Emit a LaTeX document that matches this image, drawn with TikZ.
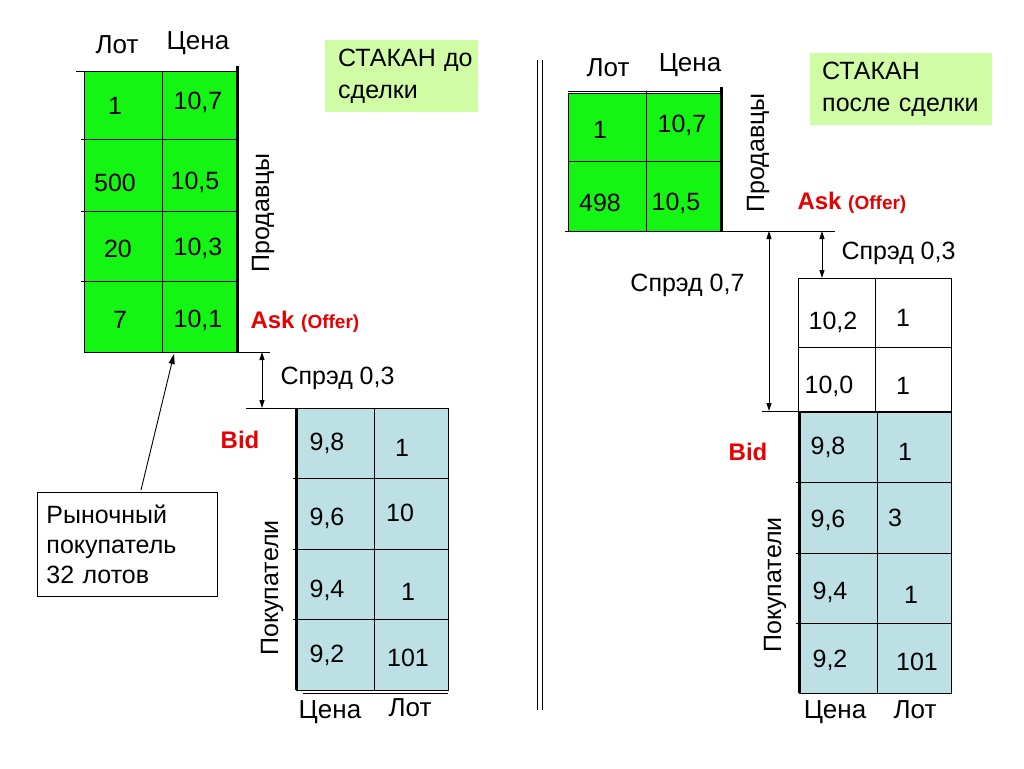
\documentclass[tikz,border=0pt]{standalone}
\usepackage{fontspec}
\setmainfont{Liberation Sans}
\usetikzlibrary{arrows.meta,positioning}
\definecolor{askgreen}{RGB}{20,245,20}
\definecolor{bidblue}{RGB}{188,224,228}
\definecolor{titlegreen}{RGB}{208,252,165}
\definecolor{hotred}{RGB}{232,0,0}

\begin{document}
\begin{tikzpicture}[x=1pt, y=-1pt, font=\fontsize{25}{30}\selectfont,
    grid/.style={line width=0.9pt},
    edge/.style={line width=3pt},
    spread/.style={{Triangle[length=8pt,width=5pt]}-{Triangle[length=8pt,width=5pt]}, line width=0.9pt},
    side/.style={rotate=90},
    head/.style={font=\fontsize{26}{30}\selectfont},
    hot/.style={text=hotred, font=\fontsize{24}{28}\selectfont\bfseries},
    note/.style={fill=titlegreen, anchor=north west, minimum height=72pt, inner xsep=5pt, align=left, font=\fontsize{25}{32}\selectfont}]
  \useasboundingbox (0,0) rectangle (1024,768);

  % before the trade: sellers
  \fill[askgreen] (84,71) rectangle (237,352);
  \draw[grid] (84,71) rectangle (237,352);
  \draw[grid] (76,71) -- (237,71);
  \foreach \y in {139,211,281} \draw[grid] (81,\y) -- (237,\y);
  \draw[grid] (162,71) -- (162,352);
  \draw[edge] (237,66) -- (237,352);
  \draw[grid] (84,352) -- (270,352);
  \node[head] (lotA) at (117,45) {Лот};
  \node[head] (priceA) at (198,43) {Цена};
  \foreach \x/\y/\t [count=\i] in {115/106/1,198/102/{10,7},115/183/500,195/182/{10,5},118/249/20,198/248/{10,3},120/320/7,198/320/{10,1}}
    \node (sa\i) at (\x,\y) {\t};
  \node[side] (sellA) at (263,213) {Продавцы};
  \node[hot, anchor=west] (askA) at (247,322) {Ask {\fontsize{19}{20}\selectfont(Offer)}};

  % spread before
  \coordinate (topA) at (262,352);
  \coordinate (botA) at (262,408);
  \draw[spread] (topA) -- (botA);
  \node[anchor=west] (spA) at (277,378) {Спрэд 0,3};

  % before the trade: buyers
  \fill[bidblue] (296,408) rectangle (448,690);
  \draw[grid] (296,408) rectangle (448,690);
  \draw[grid] (246,408) -- (448,408);
  \foreach \y in {478,549,619} \draw[grid] (293,\y) -- (448,\y);
  \draw[grid] (374,408) -- (374,690);
  \draw[edge] (296,408) -- (296,690);
  \draw[grid] (303,693) -- (448,693);
  \foreach \x/\y/\t [count=\i] in {327/443/{9,8},402/448/1,327/518/{9,6},400/513/10,327/590/{9,4},408/592/1,327/655/{9,2},408/658/101}
    \node (ba\i) at (\x,\y) {\t};
  \node[head] (priceB) at (330,712) {Цена};
  \node[head] (lotB) at (410,708) {Лот};
  \node[side] (buyA) at (272,588) {Покупатели};
  \node[hot] (bidA) at (240,440) {Bid};

  % market buyer
  \node[draw, grid, anchor=north west, minimum width=180pt, minimum height=104pt, text width=162pt, inner xsep=9pt, align=left] (buyer) at (37,492) {Рыночный\\покупатель\\32 лотов};
  \coordinate (tail) at (141,490);
  \coordinate (hit) at (174,354);
  \draw[grid, -{Triangle[length=10pt,width=6pt]}] (tail) -- (hit);

  \node[note, minimum width=153pt, text width=143pt] (before) at (325,40) {\hspace{8pt}СТАКАН до\\\hspace{8pt}сделки};

  % divider
  \draw[grid] (537,60) -- (537,710);
  \draw[grid] (542,60) -- (542,710);

  % after the trade: sellers
  \fill[askgreen] (568,93) rectangle (721,231);
  \draw[grid] (568,93) rectangle (721,231);
  \draw[grid] (568,91) -- (721,91);
  \draw[grid] (568,161) -- (721,161);
  \draw[grid] (646,91) -- (646,231);
  \draw[edge] (721,87) -- (721,231);
  \draw[grid] (565,231) -- (835,231);
  \node[head] (lotC) at (608,68) {Лот};
  \node[head] (priceC) at (690,65) {Цена};
  \foreach \x/\y/\t [count=\i] in {600/130/1,682/125/{10,7},600/203/498,676/203/{10,5}}
    \node (sb\i) at (\x,\y) {\t};
  \node[side] (sellB) at (758,153) {Продавцы};
  \node[hot, anchor=west] (askB) at (794,203) {Ask {\fontsize{19}{20}\selectfont(Offer)}};

  \node[note, minimum width=182pt, text width=172pt] (after) at (810,53) {\hspace{7pt}СТАКАН\\\hspace{7pt}после сделки};

  % spreads after
  \coordinate (topB) at (769,231);
  \coordinate (botB) at (769,411);
  \draw[spread] (topB) -- (botB);
  \node[anchor=east] (spB) at (748,285) {Спрэд 0,7};
  \coordinate (topC) at (822,231);
  \coordinate (botC) at (822,278);
  \draw[spread] (topC) -- (botC);
  \node[anchor=west] (spC) at (838,253) {Спрэд 0,3};

  % new bids
  \draw[grid] (798,278) rectangle (951,411);
  \draw[grid] (875,278) -- (875,411);
  \draw[grid] (798,347) -- (951,347);
  \draw[grid] (762,411) -- (951,411);
  \foreach \x/\y/\t [count=\i] in {833/322/{10,2},903/318/1,829/386/{10,0},903/386/1}
    \node (nb\i) at (\x,\y) {\t};

  % after the trade: buyers
  \fill[bidblue] (799,412) rectangle (951,693);
  \draw[grid] (799,412) rectangle (951,693);
  \foreach \y in {482,553,623} \draw[grid] (796,\y) -- (951,\y);
  \draw[grid] (877,412) -- (877,693);
  \draw[edge] (799,412) -- (799,693);
  \foreach \x/\y/\t [count=\i] in {828/447/{9,8},905/452/1,828/520/{9,6},895/518/3,830/592/{9,4},911/595/1,830/660/{9,2},917/662/101}
    \node (bb\i) at (\x,\y) {\t};
  \node[head] (priceD) at (835,712) {Цена};
  \node[head] (lotD) at (915,710) {Лот};
  \node[side] (buyB) at (775,585) {Покупатели};
  \node[hot] (bidB) at (748,452) {Bid};
\end{tikzpicture}
\end{document}
